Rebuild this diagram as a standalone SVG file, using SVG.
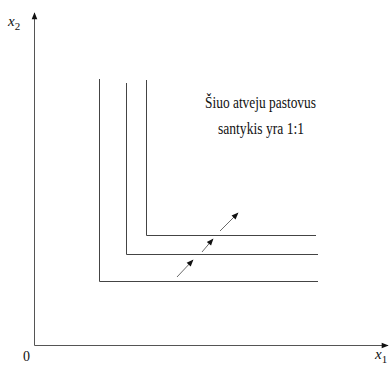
<svg xmlns="http://www.w3.org/2000/svg" width="392" height="365" viewBox="0 0 392 365">
<style>
.ax{stroke:#555;stroke-width:1;fill:none}
.c{stroke:#444;stroke-width:1;fill:none}
.ar{stroke:#444;stroke-width:0.8;fill:none}
text{font-family:"Liberation Serif","DejaVu Serif",serif;fill:#111}
</style>
<defs>
<marker id="ah" viewBox="0 0 10 10" refX="9" refY="5" markerWidth="9" markerHeight="7" orient="auto" markerUnits="userSpaceOnUse">
<path d="M0,1 L10,5 L0,9 Z" fill="#111"/>
</marker>
</defs>
<g id="axes">
<line class="ax" x1="34.5" y1="345.5" x2="34.5" y2="13" marker-end="url(#ah)"/>
<line class="ax" x1="34.5" y1="345.5" x2="388" y2="345.5" marker-end="url(#ah)"/>
</g>
<g id="labels">
<text x="8" y="26" font-size="15" font-style="italic">x<tspan font-size="11" font-style="normal" dy="4">2</tspan></text>
<text x="23" y="361" font-size="14">0</text>
<text x="375" y="359" font-size="15" font-style="italic">x<tspan font-size="11" font-style="normal" dy="4">1</tspan></text>
<text x="205" y="108" font-size="16" textLength="111" lengthAdjust="spacingAndGlyphs">Šiuo atveju pastovus</text>
<text x="218" y="134" font-size="16" textLength="86" lengthAdjust="spacingAndGlyphs">santykis yra 1:1</text>
</g>
<g id="curves">
<path class="c" d="M99.5,79 V281.5 H318"/>
<path class="c" d="M126.5,83 V254.5 H318"/>
<path class="c" d="M146.5,80 V235.5 H316"/>
</g>
<g id="connectors">
<line class="ar" x1="177" y1="277" x2="193" y2="260" marker-end="url(#ah)"/>
<line class="ar" x1="202" y1="252" x2="213" y2="239" marker-end="url(#ah)"/>
<line class="ar" x1="220" y1="231" x2="238" y2="213" marker-end="url(#ah)"/>
</g>
</svg>
